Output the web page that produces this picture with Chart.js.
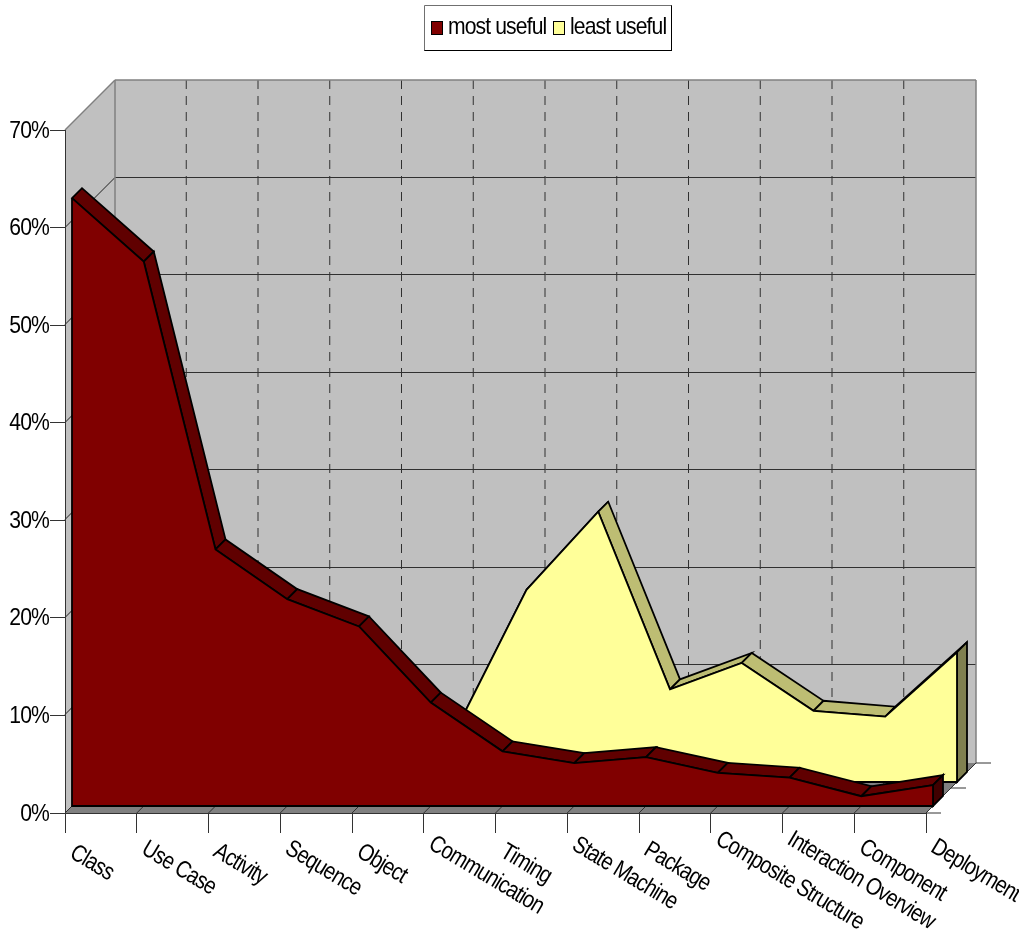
<!DOCTYPE html>
<html>
<head>
<meta charset="utf-8">
<title>UML diagram usefulness</title>
<script src="https://cdn.jsdelivr.net/npm/chart.js@4"></script>
<style>
  html, body { margin: 0; background: #fff; }
  canvas { display: block; }
</style>
</head>
<body>
<canvas id="chart" width="1019" height="930"></canvas>
<script>
const categories = ['Class', 'Use Case', 'Activity', 'Sequence', 'Object', 'Communication', 'Timing',
  'State Machine', 'Package', 'Composite Structure', 'Interaction Overview', 'Component', 'Deployment'];
const mostUseful = [62.3, 55.8, 26.3, 21.2, 18.4, 10.6, 5.6, 4.4, 5.0, 3.4, 2.9, 1.0, 2.15];
const leastUseful = [0.5, 1, 1.5, 2.5, 3.5, 5.1, 19.7, 27.7, 9.5, 12.2, 7.3, 6.7, 13.3];
const yTicks = [0, 10, 20, 30, 40, 50, 60, 70];

// plot box in canvas pixels
const plot = { left: 65, top: 130, right: 926, bottom: 813 };
const pxPerCat = (plot.right - plot.left) / (categories.length - 1);
const pxPerPct = (plot.bottom - plot.top) / 70;

// how far back things sit in the fake 3D box (px up and to the right)
const wallDepth = 50;
const bandDepth = 10;
const mostDepth = 7;
const leastDepth = 31;

const fontName = '"Liberation Sans", Arial, sans-serif';
const fontSize = 24;
const textSqueeze = 0.88;
const slantSqueeze = 0.84;
const textSpacing = '-1px';
const edgeWidth = 1.8;

const faceStyles = [
  { top: '#600000', end: '#400000' },
  { top: '#BDBD73', end: '#808050' }
];

// hidden axes are the front axes shifted by a series' depth
function depthX(d) {
  return { type: 'linear', display: false, min: -d / pxPerCat, max: categories.length - 1 - d / pxPerCat };
}
function depthY(d) {
  return { type: 'linear', display: false, min: -d / pxPerPct, max: 70 - d / pxPerPct };
}

function line(ctx, x1, y1, x2, y2) {
  ctx.beginPath();
  ctx.moveTo(x1, y1);
  ctx.lineTo(x2, y2);
  ctx.stroke();
}

function poly(ctx, pts, fill, stroke, width) {
  ctx.beginPath();
  pts.forEach((p, i) => i ? ctx.lineTo(p[0], p[1]) : ctx.moveTo(p[0], p[1]));
  ctx.closePath();
  if (fill) {
    ctx.fillStyle = fill;
    ctx.fill();
  }
  if (stroke) {
    ctx.strokeStyle = stroke;
    ctx.lineWidth = width;
    ctx.lineJoin = 'miter';
    ctx.stroke();
  }
}

// all chart text is a tight, squeezed Arial look
function squeezedText(ctx, text, x, y, align, angle, squeeze) {
  ctx.save();
  ctx.font = fontSize + 'px ' + fontName;
  ctx.letterSpacing = textSpacing;
  ctx.fillStyle = '#000';
  ctx.textAlign = align;
  ctx.textBaseline = 'middle';
  ctx.translate(x, y);
  ctx.rotate(angle * Math.PI / 180);
  ctx.scale(squeeze, 1);
  ctx.fillText(text, 0, 0);
  ctx.restore();
}

function drawWalls(chart) {
  const ctx = chart.ctx;
  const xs = chart.scales.x;
  const ys = chart.scales.y;
  const d = wallDepth;
  const { left, right, top, bottom } = chart.chartArea;

  ctx.save();
  poly(ctx, [[left + d, top - d], [right + d, top - d], [right + d, bottom - d], [left + d, bottom - d]], '#C0C0C0');
  poly(ctx, [[left, top], [left + d, top - d], [left + d, bottom - d], [left, bottom]], '#C0C0C0');
  poly(ctx, [[left, bottom], [left + d, bottom - d], [right + d, bottom - d], [right, bottom]], '#808080');

  // floor lines and the dashed verticals on the back wall
  ctx.lineWidth = 1;
  categories.forEach((c, i) => {
    const x = xs.getPixelForTick(i);
    ctx.strokeStyle = '#303030';
    line(ctx, x, bottom, x + d, bottom - d);
    if (i > 0 && i < categories.length - 1) {
      ctx.setLineDash([9, 7]);
      line(ctx, x + d - 0.5, top - d, x + d - 0.5, bottom - d);
      ctx.setLineDash([]);
    }
  });

  // horizontal lines run along the side wall then across the back
  yTicks.forEach(v => {
    const y = Math.round(ys.getPixelForValue(v)) - 0.5;
    if (v > 0 && v < 70) {
      ctx.strokeStyle = '#202020';
      line(ctx, left, y, left + d, y - d);
      ctx.strokeStyle = '#303030';
      line(ctx, left + d, y - d, right + d, y - d);
    }
  });

  ctx.strokeStyle = '#808080';
  ctx.lineWidth = 1.5;
  line(ctx, left, top, left + d, top - d);
  line(ctx, left + d, top - d, right + d, top - d);
  line(ctx, left + d, top - d, left + d, bottom - d);
  line(ctx, right + d, top - d, right + d, bottom - d);

  // unlabelled depth ticks at the right of the floor
  ctx.strokeStyle = '#333';
  ctx.lineWidth = 1;
  [0, 0.5, 1].forEach(f => {
    const x = right + d * f;
    const y = bottom - d * f;
    line(ctx, x, y, x + 15, y);
  });
  ctx.restore();
}

// the strip along the top of a series plus its right hand end
function drawBand(chart, index) {
  const ctx = chart.ctx;
  const meta = chart.getDatasetMeta(index);
  const pts = meta.data;
  const base = meta.yScale.getPixelForValue(0);
  const last = pts[pts.length - 1];
  const b = bandDepth;
  ctx.save();
  for (let i = 0; i < pts.length - 1; i++) {
    const p = pts[i];
    const q = pts[i + 1];
    poly(ctx, [[p.x, p.y], [q.x, q.y], [q.x + b, q.y - b], [p.x + b, p.y - b]], faceStyles[index].top, '#000', edgeWidth);
  }
  poly(ctx, [[last.x, last.y], [last.x + b, last.y - b], [last.x + b, base - b], [last.x, base]], faceStyles[index].end, '#000', edgeWidth);
  ctx.restore();
}

function drawFaceSides(chart, index) {
  const ctx = chart.ctx;
  const meta = chart.getDatasetMeta(index);
  const pts = meta.data;
  const base = meta.yScale.getPixelForValue(0);
  const last = pts[pts.length - 1];
  ctx.save();
  ctx.strokeStyle = '#000';
  ctx.lineWidth = edgeWidth;
  ctx.beginPath();
  ctx.moveTo(pts[0].x, pts[0].y);
  ctx.lineTo(pts[0].x, base);
  ctx.lineTo(last.x, base);
  ctx.lineTo(last.x, last.y);
  ctx.stroke();
  ctx.restore();
}

function drawLegend(chart) {
  const ctx = chart.ctx;
  ctx.save();
  ctx.fillStyle = '#fff';
  ctx.fillRect(424, 5, 248, 46);
  ctx.lineWidth = 1;
  ctx.strokeStyle = '#000';
  line(ctx, 671.5, 5, 671.5, 50.5);
  line(ctx, 424, 50.5, 672, 50.5);
  ctx.strokeStyle = '#707070';
  line(ctx, 424.5, 5.5, 671.5, 5.5);
  line(ctx, 424.5, 5.5, 424.5, 50.5);

  const slots = [{ box: 431, text: 448 }, { box: 553, text: 570 }];
  chart.data.datasets.forEach((ds, i) => {
    ctx.fillStyle = ds.backgroundColor;
    ctx.strokeStyle = '#000';
    ctx.fillRect(slots[i].box + 0.5, 21.5, 11, 13);
    ctx.strokeRect(slots[i].box + 0.5, 21.5, 11, 13);
    squeezedText(ctx, ds.label, slots[i].text, 27, 'left', 0, textSqueeze);
  });
  ctx.restore();
}

// the axis can't squeeze its labels, nor start slanted ones at the tick;
// the longer a slanted label the higher it starts
function drawAxisLabels(chart) {
  const ctx = chart.ctx;
  const xs = chart.scales.x;
  const ys = chart.scales.y;
  ys.ticks.forEach(t => {
    squeezedText(ctx, t.value + '%', plot.left - 16, ys.getPixelForValue(t.value) + 1, 'right', 0, textSqueeze);
  });
  ctx.save();
  ctx.font = fontSize + 'px ' + fontName;
  const widths = categories.map(c => ctx.measureText(c).width * slantSqueeze);
  ctx.restore();
  categories.forEach((c, i) => {
    squeezedText(ctx, c, xs.getPixelForTick(i) + 7, 856 - 0.1 * widths[i], 'left', 31, slantSqueeze);
  });
}

const box3d = {
  id: 'box3d',
  beforeDraw(chart) {
    drawWalls(chart);
  },
  beforeDatasetsDraw(chart) {
    // the series sit behind the front plane, past the right of the plot area,
    // so let the area fills run out there
    chart.chartArea.right = chart.width;
    drawBand(chart, chart.data.datasets.length - 1);
  },
  afterDatasetDraw(chart, args) {
    drawFaceSides(chart, args.index);
    if (args.index > 0) drawBand(chart, args.index - 1);
  },
  afterDatasetsDraw(chart) {
    chart.chartArea.right = plot.right;
  },
  afterDraw(chart) {
    drawAxisLabels(chart);
    drawLegend(chart);
  }
};

new Chart(document.getElementById('chart'), {
  type: 'line',
  data: {
    labels: categories,
    datasets: [{
      label: 'most useful',
      data: mostUseful.map((v, i) => ({ x: i, y: v })),
      xAxisID: 'xMost',
      yAxisID: 'yMost',
      backgroundColor: '#800000',
      borderColor: '#000',
      borderWidth: edgeWidth,
      fill: 'origin',
      pointRadius: 0,
      tension: 0,
      clip: false
    }, {
      label: 'least useful',
      data: leastUseful.map((v, i) => ({ x: i, y: v })),
      xAxisID: 'xLeast',
      yAxisID: 'yLeast',
      backgroundColor: '#FFFF99',
      borderColor: '#000',
      borderWidth: edgeWidth,
      fill: 'origin',
      pointRadius: 0,
      tension: 0,
      clip: false
    }]
  },
  options: {
    responsive: false,
    animation: false,
    parsing: { xAxisKey: 'x', yAxisKey: 'y' },
    layout: {
      autoPadding: false,
      padding: { left: 0, top: plot.top, right: 1019 - plot.right, bottom: 0 }
    },
    plugins: {
      legend: { display: false },
      tooltip: { enabled: false }
    },
    scales: {
      x: {
        type: 'category',
        offset: false,
        afterFit(scale) { scale.height = 930 - plot.bottom; },
        ticks: { display: false, autoSkip: false },
        border: { color: '#333', width: 1 },
        grid: { drawOnChartArea: false, tickLength: 20, color: '#333' }
      },
      y: {
        min: 0,
        max: 70,
        afterFit(scale) { scale.width = plot.left; },
        afterBuildTicks(scale) { scale.ticks = yTicks.map(v => ({ value: v })); },
        ticks: { display: false },
        border: { color: '#333', width: 1 },
        grid: { drawOnChartArea: false, tickLength: 15, color: '#333' }
      },
      xMost: depthX(mostDepth),
      yMost: depthY(mostDepth),
      xLeast: depthX(leastDepth),
      yLeast: depthY(leastDepth)
    }
  },
  plugins: [box3d]
});
</script>
</body>
</html>
